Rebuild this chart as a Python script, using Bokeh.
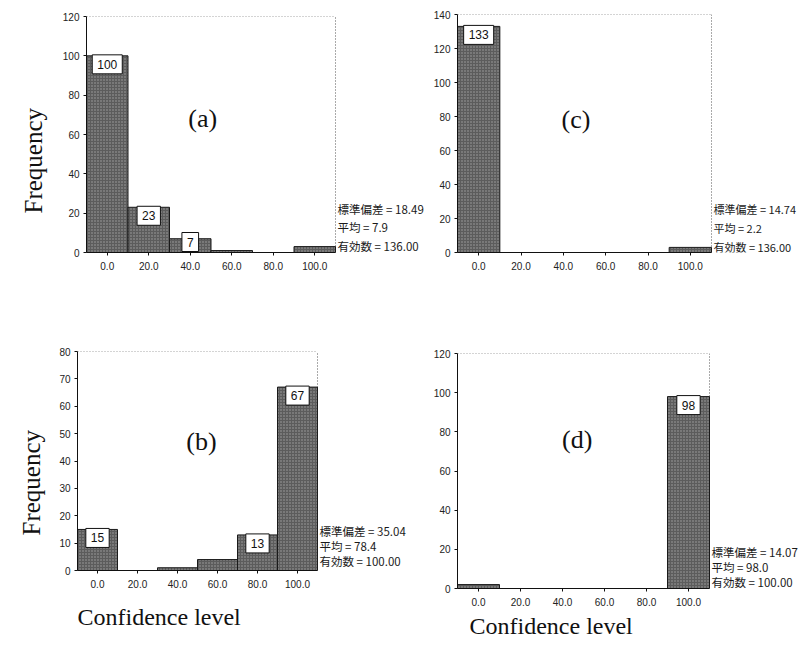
from bokeh.plotting import figure
from bokeh.models import Label, FixedTicker, Title
from bokeh.layouts import row, column
from bokeh.embed import file_html
from bokeh.resources import INLINE

# ---- data ----
bin_centers = [0, 20, 40, 60, 80, 100]
x_tick_labels = ["0.0", "20.0", "40.0", "60.0", "80.0", "100.0"]

counts_a = [100, 23, 7, 1, 0, 3]
counts_b = [15, 0, 1, 4, 13, 67]
counts_c = [133, 0, 0, 0, 0, 3]
counts_d = [2, 0, 0, 0, 0, 98]

stats_a = ["標準偏差 = 18.49", "平均 = 7.9", "有効数 = 136.00"]
stats_b = ["標準偏差 = 35.04", "平均 = 78.4", "有効数 = 100.00"]
stats_c = ["標準偏差 = 14.74", "平均 = 2.2", "有効数 = 136.00"]
stats_d = ["標準偏差 = 14.07", "平均 = 98.0", "有効数 = 100.00"]

y_max = {"a": 120, "b": 80, "c": 140, "d": 120}
y_step = {"a": 20, "b": 10, "c": 20, "d": 20}

BIN_W = 20
SERIF = "Liberation Serif"
SANS = "Liberation Sans"
CJK = "Noto Sans CJK JP"


def set_if(obj, name, val):
    if name in obj.properties():
        setattr(obj, name, val)


def panel(key, counts, stats, geom, letter_pos, stats_y, stats_size="11.5px",
          ylabel=None, xlabel=None):
    fw, fh, bl, br, bt, bb = geom
    ymax = y_max[key]
    x0, x1 = -BIN_W / 2, 100 + BIN_W / 2
    ext = br * (x1 - x0) / fw          # frame extended to the right for the stats text
    p = figure(min_border_left=bl, min_border_right=0,
               min_border_top=bt, min_border_bottom=bb,
               frame_width=fw + br, frame_height=fh,
               x_range=(x0, x1 + ext), y_range=(0, ymax),
               output_backend="svg", toolbar_location=None)
    p.background_fill_color = "white"
    p.border_fill_color = "white"
    p.xgrid.visible = False
    p.ygrid.visible = False
    p.outline_line_color = None

    # dotted top and right border of the histogram box
    p.segment(x0=[x0, x1], y0=[ymax, 0], x1=[x1, x1], y1=[ymax, ymax],
              line_color="#555555", line_dash="1 2", line_width=1)

    lefts = [c - BIN_W / 2 for c in bin_centers]
    rights = [c + BIN_W / 2 for c in bin_centers]
    p.quad(left=lefts, right=rights, bottom=0, top=counts,
           fill_color="#5c5c5c", line_color="#1a1a1a", line_width=1,
           hatch_pattern=".", hatch_color="white", hatch_alpha=0.45,
           hatch_scale=3)

    for ax in (p.xaxis, p.yaxis):
        ax.axis_line_color = "#111111"
        ax.axis_line_width = 1
        ax.major_tick_line_color = "#111111"
        ax.major_tick_in = 0
        ax.major_tick_out = 3
        ax.minor_tick_line_color = None
        ax.major_label_text_font = SANS
        ax.major_label_text_font_size = "10px"
        ax.major_label_text_color = "#222222"
        ax.major_label_standoff = 6

    p.xaxis.ticker = FixedTicker(ticks=bin_centers)
    p.xaxis.bounds = (x0, x1)
    p.xaxis.major_label_overrides = {c: t for c, t in zip(bin_centers, x_tick_labels)}
    yt = list(range(0, ymax + 1, y_step[key]))
    p.yaxis.ticker = FixedTicker(ticks=yt)
    p.yaxis.major_label_standoff = 4

    # value boxes on bars
    ppu = fh / ymax
    for c, v in zip(bin_centers, counts):
        if v >= 5:
            if v * ppu >= 22:
                lab = Label(x=c, y=v, text=str(v), text_align="center",
                            text_baseline="top", y_offset=1)
            else:
                lab = Label(x=c, y=0, text=str(v), text_align="center",
                            text_baseline="bottom", y_offset=1)
            lab.text_font = SANS
            lab.text_font_size = "12px"
            lab.text_color = "#111111"
            lab.background_fill_color = "white"
            lab.border_line_color = "#111111"
            lab.border_line_width = 1
            lab.padding = 5
            p.add_layout(lab)

    # panel letter
    p.add_layout(Label(x=letter_pos[0], y=letter_pos[1], text="(%s)" % key,
                       text_align="center", text_baseline="middle",
                       text_font=SERIF, text_font_size="26px", text_color="#111111"))

    # statistics text to the right of the box
    for s, sy in zip(stats, stats_y):
        p.add_layout(Label(x=fw + 2, y=sy, x_units="screen", y_units="screen",
                           text=s, text_align="left", text_baseline="middle",
                           text_font=CJK, text_font_size=stats_size, text_color="#1a1a1a"))

    if ylabel:
        t = Title(text="Frequency", align="left", offset=ylabel[0],
                  text_font=SERIF, text_font_size="25px", text_font_style="normal",
                  text_color="#111111")
        set_if(t, "standoff", ylabel[1])
        p.add_layout(t, "left")
    if xlabel:
        t = Title(text="Confidence level", align="left", offset=xlabel[0],
                  text_font=SERIF, text_font_size="24px", text_font_style="normal",
                  text_color="#111111")
        set_if(t, "standoff", xlabel[1])
        p.add_layout(t, "below")
    return p


# geometry: frame_w, frame_h, border_left, border_right(stats area), border_top, border_bottom
pa = panel("a", counts_a, stats_a, (249, 236, 86, 95, 16, 78), (46, 68), [44, 26, 7],
           ylabel=(39, 26))
pb = panel("b", counts_b, stats_b, (240, 219, 77, 113, 21, 78), (52, 47), [40, 25, 10],
           ylabel=(35, 24), xlabel=(0, 22))
pc = panel("c", counts_c, stats_c, (254, 238, 26, 88, 14, 78), (46, 78), [44, 25, 6],
           stats_size="11px")
pd = panel("d", counts_d, stats_d, (252, 235, 23, 93, 23, 60), (47, 76), [37, 22, 7],
           xlabel=(12, 5))

layout = row(column(row(pa), row(pb)), column(row(pc), row(pd)))
open("out.html", "w").write(file_html(layout, INLINE))
